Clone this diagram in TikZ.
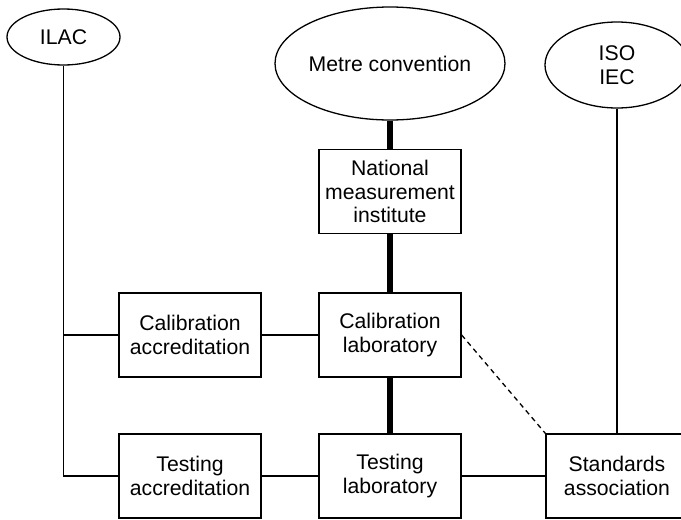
\documentclass[tikz,border=0pt]{standalone}
\usepackage{fontspec}
\setmainfont{Liberation Sans}
\usetikzlibrary{shapes.geometric}
\begin{document}
\begin{tikzpicture}[x=1pt,y=-1pt,
  every node/.style={font=\fontsize{21.2}{23.5}\selectfont, align=center, inner sep=0pt},
  ell/.style={draw, ellipse, line width=1.3pt},
  box/.style={draw, rectangle, line width=1.3pt, minimum width=142pt, minimum height=84pt},
  thinline/.style={line width=1.3pt},
  thickline/.style={line width=6.5pt},
  dashline/.style={line width=1.3pt, dash pattern=on 5pt off 4pt}]
\clip (0,0) rectangle (681,520);
\useasboundingbox (0,0) rectangle (681,520);
\node[ell, minimum width=113pt, minimum height=56pt] (ilac) at (63.5,37) {ILAC};
\node[ell, minimum width=198pt, minimum height=113pt] (metre) at (390,63.5) {Metre convention};
\node[ell, minimum width=144pt, minimum height=86pt] (iso) at (617,65) {ISO\\IEC};
\node[box] (nmi) at (390,191.5) {National\\measurement\\institute};
\node[box] (calacc) at (190,335) {Calibration\\accreditation};
\node[box] (callab) at (390,335) {Calibration\\laboratory};
\node[box] (testacc) at (190,476) {Testing\\accreditation};
\node[box] (testlab) at (390,476) {Testing\\laboratory};
\node[box] (std) at (617,476) {Standards\\association};
\coordinate (corner) at (63.5,476);
\draw[thickline] (metre.south) -- (nmi.north);
\draw[thickline] (nmi.south) -- (callab.north);
\draw[thickline] (callab.south) -- (testlab.north);
\draw[thinline] (ilac.south) -- (corner) -- (testacc.west);
\draw[thinline] (calacc.west -| corner) -- (calacc.west);
\draw[thinline] (calacc.east) -- (callab.west);
\draw[thinline] (testacc.east) -- (testlab.west);
\draw[thinline] (testlab.east) -- (std.west);
\draw[thinline] (iso.south) -- (std.north);
\draw[dashline] (callab.east) -- (std.north west);
\end{tikzpicture}
\end{document}
